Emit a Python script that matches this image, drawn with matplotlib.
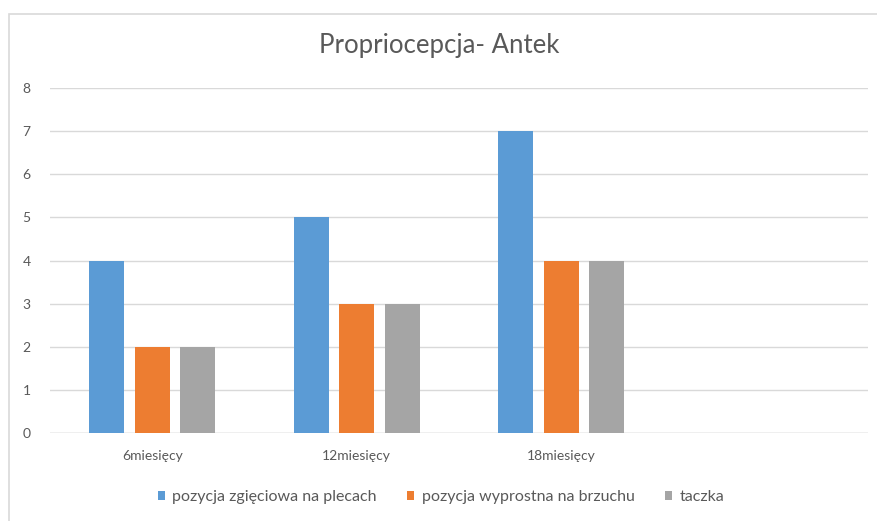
import numpy as np
import matplotlib.pyplot as plt
from matplotlib.patches import Rectangle

# data
categories = ["6miesięcy", "12miesięcy", "18miesięcy", ""]
series_names = ["pozycja zgięciowa na plecach", "pozycja wyprostna na brzuchu", "taczka"]
zgieciowa = [4, 5, 7, np.nan]
wyprostna = [2, 3, 4, np.nan]
taczka = [2, 3, 4, np.nan]
colors = ["#5B9BD5", "#ED7D31", "#A5A5A5"]

plt.rcParams["font.family"] = ["Lato", "DejaVu Sans"]

fig = plt.figure(figsize=(8.78, 5.21), dpi=100)
ax = fig.add_axes([50 / 878, 1 - 433 / 521, 818 / 878, 345 / 521])

# chart border (only top and left edges visible in the crop)
fig.patches.append(Rectangle((9.5 / 878, -0.05), 1.1, 1.05 - 14 / 521,
                             transform=fig.transFigure, fill=False,
                             edgecolor="#D9D9D9", linewidth=1.2))

x = np.arange(len(categories))
w = 0.172
step = 0.222
for i, (vals, name) in enumerate(zip([zgieciowa, wyprostna, taczka], series_names)):
    ax.bar(x + (i - 1) * step, vals, width=w, color=colors[i], label=name, zorder=3)

ax.set_xlim(-0.5, len(categories) - 0.5)
ax.set_ylim(0, 8)
ax.set_yticks(range(0, 9))
ax.set_xticks(x)
ax.set_xticklabels(categories)
ax.grid(axis="y", color="#D9D9D9", linewidth=1.0, zorder=0)
for s in ax.spines.values():
    s.set_visible(False)
ax.axhline(0, color="#D0D0D0", linewidth=1.0, zorder=2)
ax.tick_params(axis="both", length=0, colors="#595959", labelsize=10)
ax.tick_params(axis="y", pad=14)
ax.tick_params(axis="x", pad=12)

fig.text(0.5, 1 - 45 / 521, "Propriocepcja- Antek", ha="center", va="center",
         fontsize=18.5, color="#595959")

fig.legend(loc="center", bbox_to_anchor=(441 / 878, 1 - 497 / 521), ncol=3,
           frameon=False, fontsize=11.5, labelcolor="#595959",
           handlelength=0.45, handleheight=0.45, handletextpad=0.45, columnspacing=1.9)

fig.savefig("out.png", dpi=100)
